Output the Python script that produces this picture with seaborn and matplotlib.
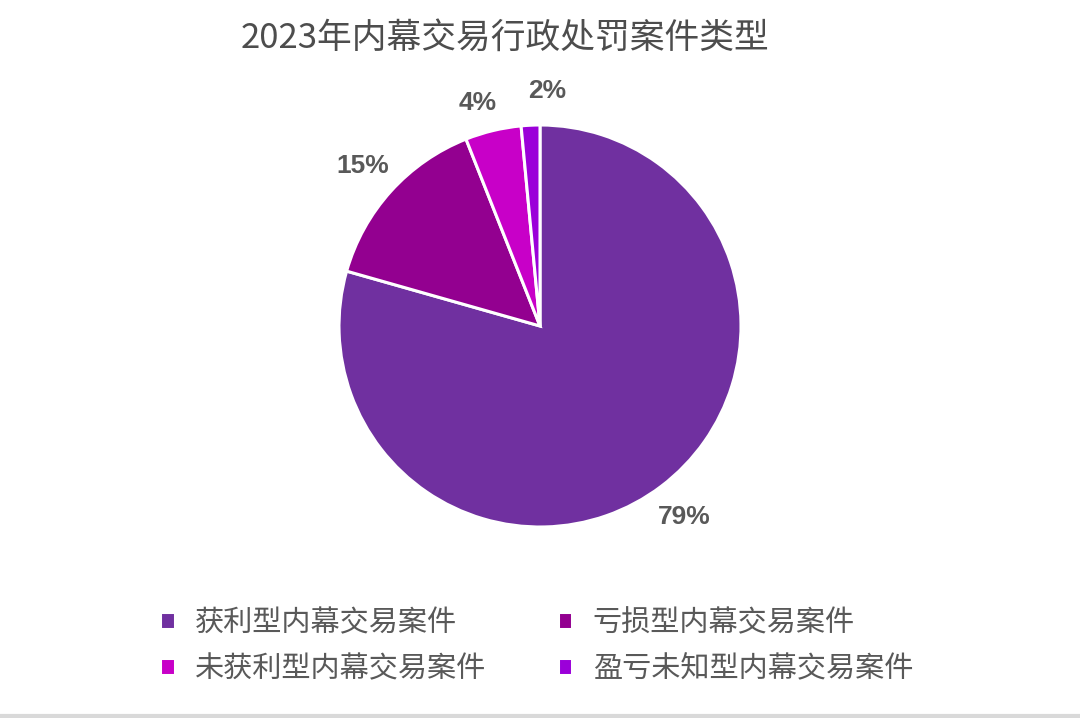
import matplotlib
matplotlib.use("Agg")
import matplotlib.pyplot as plt
import seaborn as sns
from matplotlib.lines import Line2D

# --- data ---
categories = ["获利型内幕交易案件", "亏损型内幕交易案件", "未获利型内幕交易案件", "盈亏未知型内幕交易案件"]
shares = [79.4, 14.6, 4.5, 1.5]
pct_labels = ["79%", "15%", "4%", "2%"]
colors = ["#7030A0", "#930090", "#C800C8", "#9B00D9"]
title = "2023年内幕交易行政处罚案件类型"

sns.set_theme(style="white")
plt.rcParams["font.family"] = ["Noto Sans CJK SC", "DejaVu Sans"]
text_color = "#595959"

fig = plt.figure(figsize=(10.8, 7.18), dpi=100)
# pie of radius 201px centred at (540, 326); default pie limits are +-1.25
r_px = 201
span = 2.5 * r_px
ax = fig.add_axes([(540 - span / 2) / 1080, (718 - 326 - span / 2) / 718, span / 1080, span / 718])

wedges, texts = ax.pie(
    shares, labels=pct_labels, colors=colors, startangle=90, counterclock=False,
    labeldistance=1.19, wedgeprops=dict(edgecolor="white", linewidth=2.2),
    textprops=dict(color=text_color, fontsize=19, fontweight="bold",
                   family=["Liberation Sans Narrow", "Liberation Sans"]),
)
for t in texts:
    t.set_ha("center")
    t.set_va("center")
# small slices: nudge labels a bit like the original layout
x, y = texts[2].get_position()
texts[2].set_position((x - 0.03, y - 0.05))
x, y = texts[3].get_position()
texts[3].set_position((x + 0.09, y - 0.02))

fig.text(505 / 1080, 1 - 38 / 718, title, ha="center", va="center",
         fontsize=25, color="#4D4D4D", fontweight="medium")

# matplotlib fills legend column-wise; reorder so rows read like the original
order = [0, 2, 1, 3]
leg = fig.legend([wedges[i] for i in order], [categories[i] for i in order], ncol=2,
                 loc="upper left", bbox_to_anchor=(160 / 1080, 1 - 608 / 718), frameon=False,
                 fontsize=21, handlelength=0.5, handleheight=0.5, handletextpad=0.7,
                 columnspacing=2.45, labelspacing=0.55, borderpad=0, borderaxespad=0)
for t in leg.get_texts():
    t.set_color(text_color)

# thin grey rule along the bottom edge
fig.add_artist(Line2D([0, 1], [2 / 718, 2 / 718], color="#D9D9D9", linewidth=3,
                      transform=fig.transFigure))

fig.savefig("out.png", dpi=100)
